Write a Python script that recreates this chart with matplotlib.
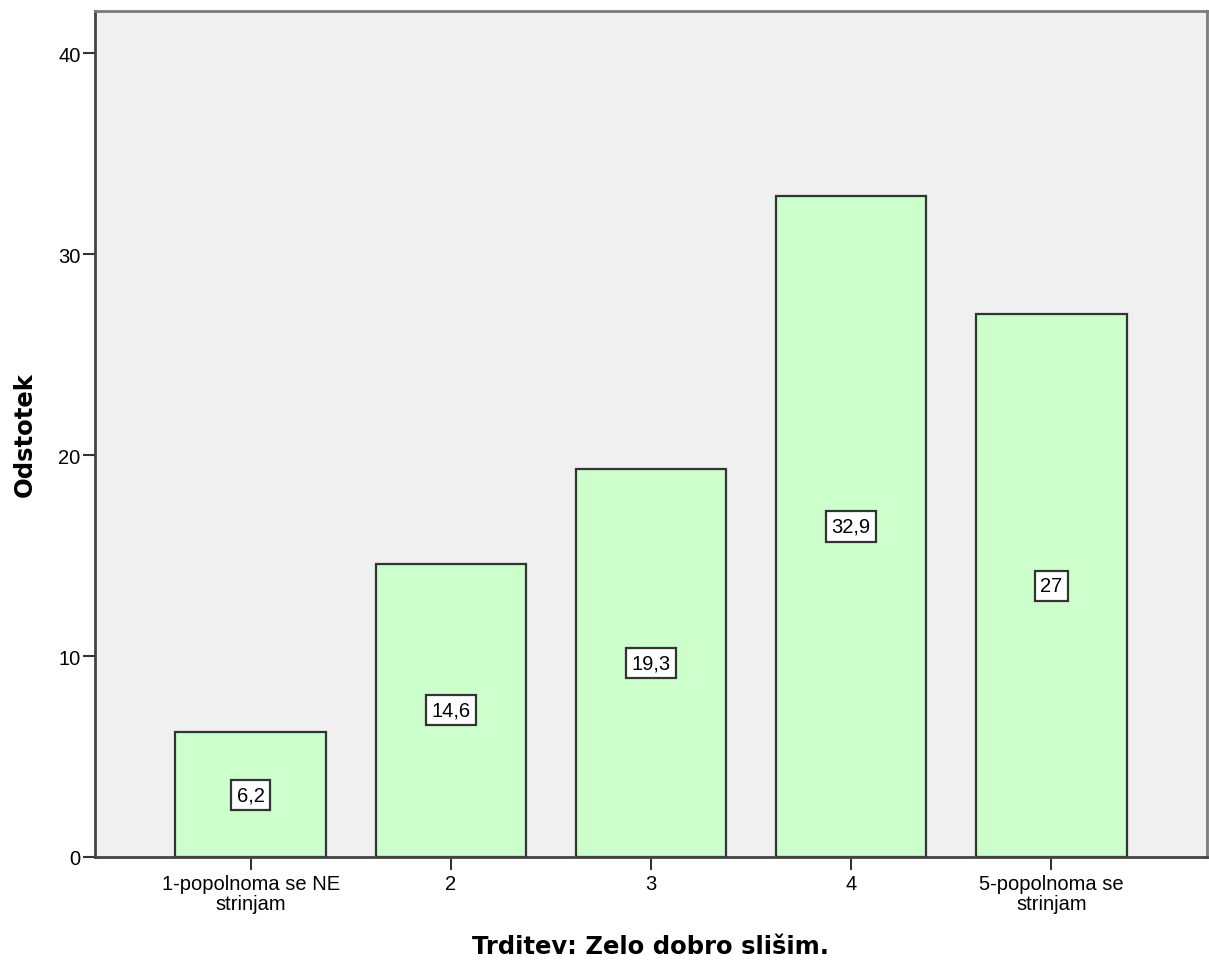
import matplotlib
matplotlib.use("Agg")
import matplotlib.pyplot as plt

categories = ["1-popolnoma se NE\nstrinjam", "2", "3", "4", "5-popolnoma se\nstrinjam"]
values = [6.2, 14.6, 19.3, 32.9, 27.0]
value_labels = ["6,2", "14,6", "19,3", "32,9", "27"]
yticks = [0, 10, 20, 30, 40]

plt.rcParams['font.family'] = ['Liberation Sans', 'DejaVu Sans']

W, H = 1209, 970
fig = plt.figure(figsize=(W/100, H/100), dpi=100)
ax = fig.add_axes([95/W, 1-858/H, (1207-95)/W, (858-12)/H])
ax.set_facecolor('#F0F0F0')

x = list(range(len(categories)))
ax.bar(x, values, width=0.75, color='#CCFFCC', edgecolor='#333333', linewidth=1.6, zorder=2)
for xi, v, lab in zip(x, values, value_labels):
    ax.text(xi, v/2, lab, ha='center', va='center', fontsize=14.5, zorder=3,
            bbox=dict(boxstyle='square,pad=0.28', facecolor='white', edgecolor='#333333', linewidth=1.6))

ax.set_xlim(-0.777, 4.777)
ax.set_ylim(0, 42.1)
ax.set_yticks(yticks)
ax.set_xticks(x)
ax.set_xticklabels(categories, fontsize=14.5, linespacing=1.1)
ax.tick_params(axis='y', labelsize=14.5, length=9, width=1.5, color='#333333', direction='out', pad=1.5)
ax.tick_params(axis='x', length=9, width=1.5, color='#333333', direction='out', pad=3)

for s in ['left', 'bottom']:
    ax.spines[s].set_color('#444444')
    ax.spines[s].set_linewidth(2.0)
for s in ['top', 'right']:
    ax.spines[s].set_color('#7a7a7a')
    ax.spines[s].set_linewidth(2.0)

ax.set_ylabel("Odstotek", fontsize=17.5, fontweight='bold', family='DejaVu Sans', va='center')
ax.yaxis.set_label_coords((25-95)/1112, 0.5)
ax.set_xlabel("Trditev: Zelo dobro slišim.", fontsize=17.5, fontweight='bold', family='DejaVu Sans', va='center')
ax.xaxis.set_label_coords(0.5, (858-947)/846)

fig.savefig("out.png", dpi=100)
